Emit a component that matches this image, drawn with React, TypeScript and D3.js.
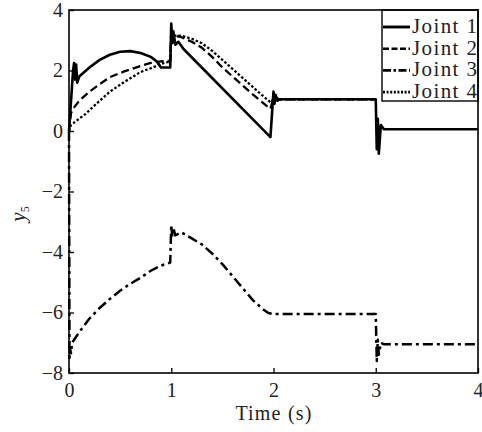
import React, { useEffect, useRef } from "react";
import * as d3 from "d3";

const xTicks = [0, 1, 2, 3, 4];
const yTicks = [-8, -6, -4, -2, 0, 2, 4];

const joint1T = [0, 0.04, 0.05, 0.06, 0.07, 0.08, 0.1, 0.15, 0.2, 0.3, 0.4, 0.5, 0.6, 0.7, 0.8, 0.86, 0.9, 0.99, 1.0, 1.01, 1.02, 1.04, 1.07, 1.12, 1.97, 2.0, 2.01, 2.02, 2.04, 2.06, 3.0, 3.01, 3.02, 3.03, 3.05, 3.08, 4.0];
const joint1V = [0, 2.0, 2.25, 1.7, 2.2, 1.6, 1.8, 1.95, 2.1, 2.35, 2.52, 2.62, 2.64, 2.58, 2.45, 2.3, 2.1, 2.1, 3.55, 2.9, 3.3, 2.85, 2.95, 2.71, -0.2, 1.3, 0.9, 1.2, 1.0, 1.05, 1.05, -0.6, 0.4, -0.75, 0.2, 0.06, 0.06];

const joint2T = [0, 0.02, 0.05, 0.1, 0.2, 0.3, 0.4, 0.54, 0.7, 0.8, 0.9, 0.99, 1.0, 1.02, 1.04, 1.1, 1.2, 1.3, 1.4, 1.5, 1.6, 1.7, 1.8, 1.9, 1.97, 2.0, 2.06, 3.0];
const joint2V = [0, 0.6, 0.78, 1.0, 1.3, 1.55, 1.78, 1.97, 2.15, 2.25, 2.3, 2.32, 3.3, 3.0, 3.15, 3.1, 2.95, 2.75, 2.45, 2.1, 1.8, 1.5, 1.2, 0.92, 0.73, 1.1, 1.05, 1.05];

const joint3T = [0, 0.005, 0.01, 0.02, 0.03, 0.06, 0.1, 0.2, 0.3, 0.4, 0.5, 0.6, 0.7, 0.8, 0.9, 0.99, 1.0, 1.01, 1.02, 1.04, 1.1, 1.2, 1.3, 1.4, 1.5, 1.6, 1.7, 1.8, 1.9, 1.95, 2.0, 3.0, 3.01, 3.02, 3.03, 3.05, 3.08, 4.0];
const joint3V = [0, -7.5, -7.2, -7.35, -7.0, -6.85, -6.65, -6.2, -5.85, -5.55, -5.28, -5.05, -4.85, -4.62, -4.45, -4.35, -3.1, -3.5, -3.2, -3.45, -3.35, -3.55, -3.75, -4.05, -4.4, -4.8, -5.2, -5.6, -5.9, -6.02, -6.05, -6.05, -7.6, -6.9, -7.4, -7.0, -7.05, -7.05];

const joint4T = [0, 0.02, 0.07, 0.16, 0.3, 0.4, 0.54, 0.7, 0.82, 0.9, 0.99, 1.0, 1.02, 1.1, 1.2, 1.3, 1.4, 1.5, 1.6, 1.7, 1.8, 1.9, 1.97, 2.0, 2.06, 3.0];
const joint4V = [0, 0.2, 0.33, 0.56, 1.0, 1.3, 1.62, 1.95, 2.1, 2.22, 2.3, 3.1, 3.15, 3.15, 3.05, 2.9, 2.65, 2.35, 2.05, 1.75, 1.45, 1.15, 0.95, 1.05, 1.05, 1.05];

const seriesNames = ["Joint 1", "Joint 2", "Joint 3", "Joint 4"];
const seriesT = [joint1T, joint2T, joint3T, joint4T];
const seriesV = [joint1V, joint2V, joint3V, joint4V];
const dashes = ["none", "8,4", "10,4,3,4", "2.5,2"];
const legendDashes = ["none", "6,2.5", "8,2.5,2.5,2.5", "2,1.6"];
const widths = [2.6, 2.3, 2.5, 2.3];

const W = 482, H = 432;
const L = 69, R = 478, T = 10, B = 373;
const FONT = "'Times New Roman', 'Liberation Serif', Times, serif";

export default function App() {
  const gx = useRef<SVGGElement>(null);
  const gy = useRef<SVGGElement>(null);
  const x = d3.scaleLinear().domain([0, 4]).range([L, R]);
  const y = d3.scaleLinear().domain([-8, 4]).range([B, T]);

  useEffect(() => {
    const ax = d3.axisBottom(x).tickValues(xTicks).tickSize(-5).tickPadding(10).tickFormat(d3.format("d"));
    const sx = d3.select(gx.current!);
    sx.call(ax as any);
    sx.select(".domain").remove();
    sx.selectAll("line").attr("stroke", "#000").attr("stroke-width", 1.3);
    sx.selectAll("text").attr("font-family", FONT).attr("font-size", 20).attr("fill", "#222");

    const ay = d3.axisLeft(y).tickValues(yTicks).tickSize(-5).tickPadding(6).tickFormat((d: any) => (d < 0 ? "\u2212" + Math.abs(d) : String(d)));
    const sy = d3.select(gy.current!);
    sy.call(ay as any);
    sy.select(".domain").remove();
    sy.selectAll("line").attr("stroke", "#000").attr("stroke-width", 1.3);
    sy.selectAll("text").attr("font-family", FONT).attr("font-size", 20).attr("fill", "#222");
  }, []);

  const line = d3.line<[number, number]>().x((d) => x(d[0])).y((d) => y(d[1]));

  const legX = 382, legY = 10, legW = 96, legH = 91;

  return (
    <svg width={W} height={H} style={{ position: "absolute", left: 0, top: 0, background: "#fff" }}>
      <rect x={0} y={0} width={W} height={H} fill="#fff" />
      {seriesT.map((ts, i) => (
        <path
          key={i}
          d={line(ts.map((t, j) => [t, seriesV[i][j]]) as [number, number][]) || ""}
          fill="none"
          stroke="#000"
          strokeWidth={widths[i]}
          strokeDasharray={dashes[i]}
          strokeLinejoin="round"
        />
      ))}
      <g ref={gx} transform={`translate(0,${B})`} />
      <g ref={gy} transform={`translate(${L},0)`} />
      <rect x={L} y={T} width={R - L} height={B - T} fill="none" stroke="#000" strokeWidth={1.6} />
      <rect x={legX} y={legY} width={legW} height={legH} fill="none" stroke="#000" strokeWidth={1.4} />
      {seriesNames.map((n, i) => {
        const yy = 27 + i * 21.7;
        return (
          <g key={n}>
            <line x1={legX + 1} x2={legX + 28} y1={yy} y2={yy} stroke="#000" strokeWidth={widths[i] + 0.3} strokeDasharray={legendDashes[i]} />
            <text x={legX + 30} y={yy + 6} fontFamily={FONT} fontSize={21} letterSpacing={1.4} fill="#222">{n}</text>
          </g>
        );
      })}
      <text x={274} y={420} textAnchor="middle" fontFamily={FONT} fontSize={20} letterSpacing={1.2} fill="#222">Time (s)</text>
      <text transform="translate(25,214) rotate(-90)" textAnchor="middle" fontFamily={FONT} fontSize={21} fill="#222">
        <tspan fontStyle="italic">y</tspan>
        <tspan fontSize={12} dy={4}>5</tspan>
      </text>
    </svg>
  );
}
